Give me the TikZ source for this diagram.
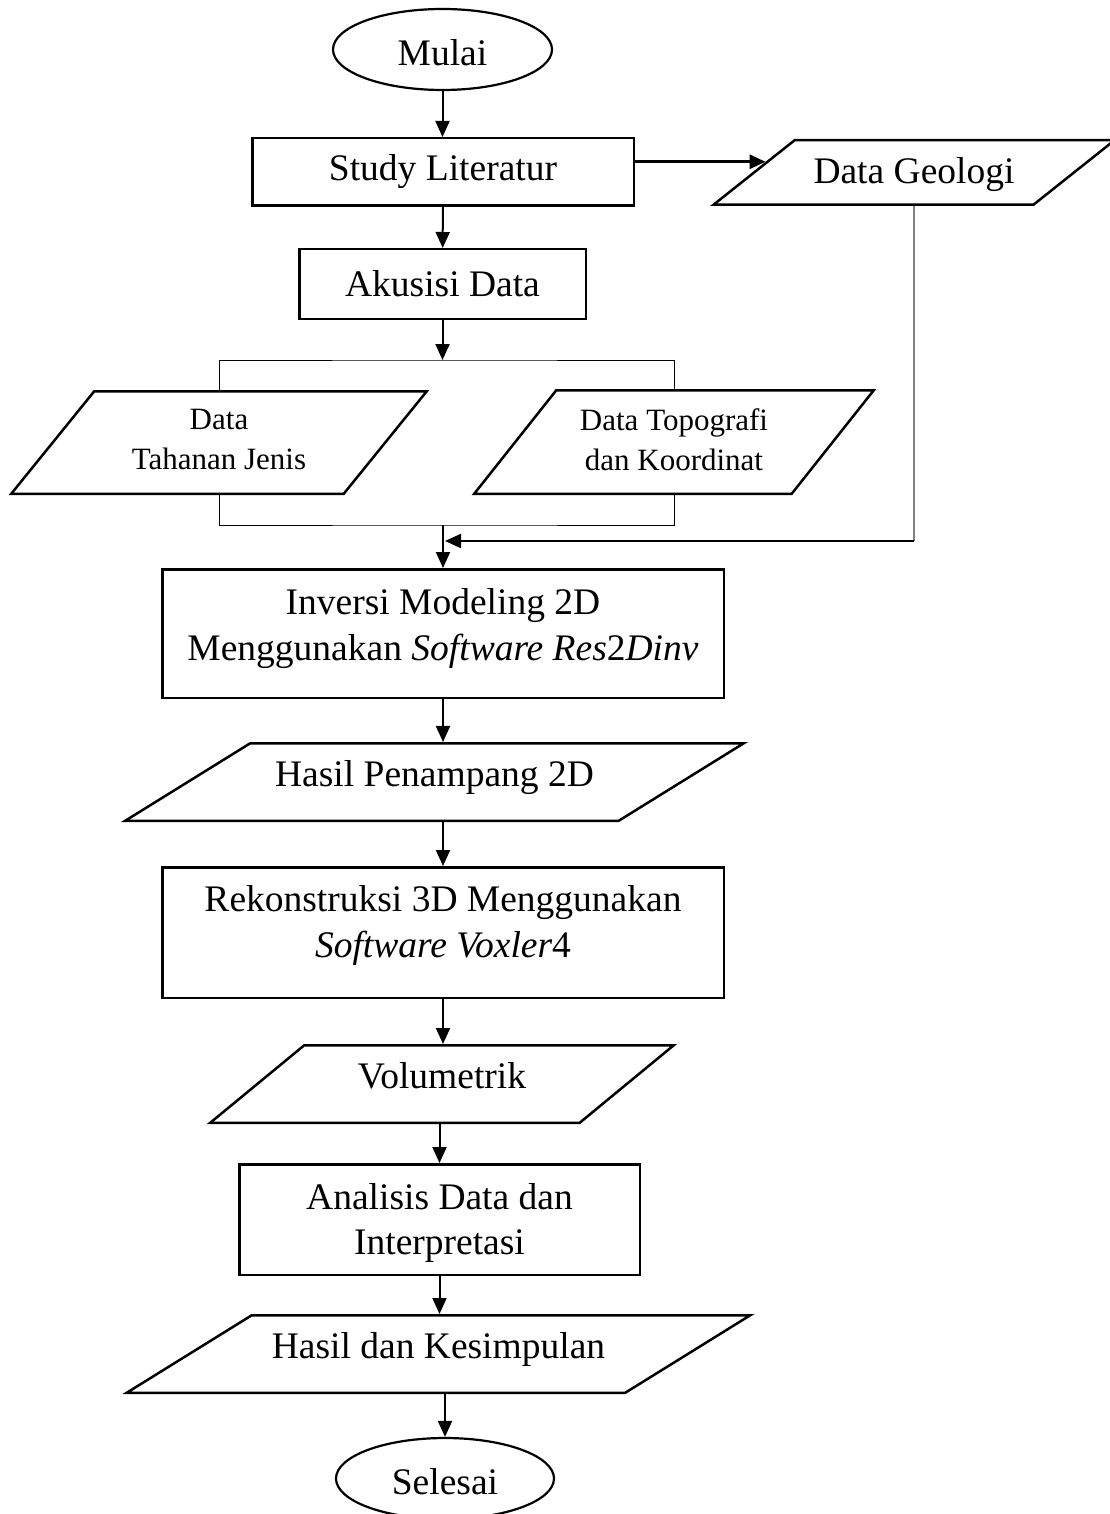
\documentclass[tikz,border=0pt]{standalone}
\usepackage{fontspec}
\setmainfont{Liberation Serif}
\usetikzlibrary{shapes.geometric,arrows.meta,calc}
\begin{document}
\begin{tikzpicture}[x=1pt,y=-1pt,>={Triangle[width=14pt,length=16pt]}]
\useasboundingbox (0,0) rectangle (1110,1514);
\tikzstyle{every node}=[draw,line width=2.5pt,inner sep=0pt,align=center,font=\fontsize{37.5}{46}\selectfont];
\tikzstyle{kotak}=[rectangle];
\tikzstyle{oval}=[ellipse,line width=2.2pt,text height=32pt];
\tikzstyle{jajar}=[trapezium,trapezium stretches body];
\tikzstyle{kecil}=[font=\fontsize{31}{39.5}\selectfont];
\node (mulai)[oval,minimum width=219pt,minimum height=81pt] at (442.5,49.5) {Mulai};
\node (studi)[kotak,minimum width=381.5pt,minimum height=67.5pt] at (443,172) {Study Literatur};
\node (geologi)[jajar,trapezium left angle=38.5,trapezium right angle=141.5,minimum width=401pt,text height=43pt,text depth=21.5pt] at (914,172.5) {Data Geologi};
\node (akusisi)[kotak,minimum width=286.5pt,minimum height=69.5pt] at (442.5,284) {Akusisi Data};
\node (tahanan)[jajar,kecil,trapezium left angle=51,trapezium right angle=129,minimum width=415.5pt,text height=78pt,text depth=24.5pt] at (219,442.5) {Data\\Tahanan Jenis};
\node (topografi)[jajar,kecil,trapezium left angle=51.6,trapezium right angle=128.4,minimum width=399.5pt,text height=79.75pt,text depth=23.75pt] at (674,442) {Data Topografi\\dan Koordinat};
\node (inversi)[kotak,minimum width=561.5pt,text height=91pt,text depth=37.5pt] at (443,633.5) {Inversi Modeling 2D\\Menggunakan \textit{Software Res}2\textit{Dinv}};
\node (penampang)[jajar,trapezium left angle=31.8,trapezium right angle=148.2,minimum width=618.5pt,text height=42.75pt,text depth=34.75pt] at (434.5,782) {Hasil Penampang 2D};
\node (rekon)[kotak,font=\fontsize{37.5}{46}\selectfont,minimum width=561.5pt,text height=90pt,text depth=40.5pt] at (443,932.5) {Rekonstruksi 3D Menggunakan\\\textit{Software Voxler}4};
\node (volumetrik)[jajar,trapezium left angle=39.5,trapezium right angle=140.5,minimum width=463.5pt,text height=43pt,text depth=34.5pt] at (442,1084) {Volumetrik};
\node (analisis)[kotak,font=\fontsize{37.5}{45}\selectfont,minimum width=400.5pt,text height=90.5pt,text depth=20pt] at (439.5,1219.5) {Analisis Data dan\\Interpretasi};
\node (kesimpulan)[jajar,trapezium left angle=31.8,trapezium right angle=148.2,minimum width=623.5pt,text height=43pt,text depth=34.5pt] at (438.5,1354) {Hasil dan Kesimpulan};
\node (selesai)[oval,minimum width=218pt,minimum height=81pt] at (445,1478.5) {Selesai};
% titik bantu
\coordinate (a1) at (442.5,360);
\coordinate (a2) at (443,525);
\coordinate (a3) at (445,541);
\coordinate (g1) at ($(geologi.bottom left corner)!0.66!(geologi.top left corner)$);
\path[->,line width=2pt](mulai.south) edge (mulai.south |- studi.north)
(studi) edge (akusisi)
(akusisi) edge (a1)
(a2) edge (inversi.north)
(inversi.south) edge (inversi.south |- penampang.north)
(rekon.north |- penampang.south) edge (rekon.north)
(rekon.south) edge (rekon.south |- volumetrik.north)
(analisis.north |- volumetrik.south) edge (analisis.north)
(analisis.south) edge (analisis.south |- kesimpulan.north)
(selesai.north |- kesimpulan.south) edge (selesai.north);
\draw[->,line width=3pt] (studi.east |- g1) -- (g1);
\draw[line width=1pt] (tahanan.north) |- (a1) -| (topografi.north)
(tahanan.south) |- (a2) -| (topografi.south);
\draw[gray,line width=1.2pt] (geologi.south) -- (geologi.south |- a3);
\draw[->,line width=2pt] (geologi.south |- a3) -- (a3);
\end{tikzpicture}
\end{document}
